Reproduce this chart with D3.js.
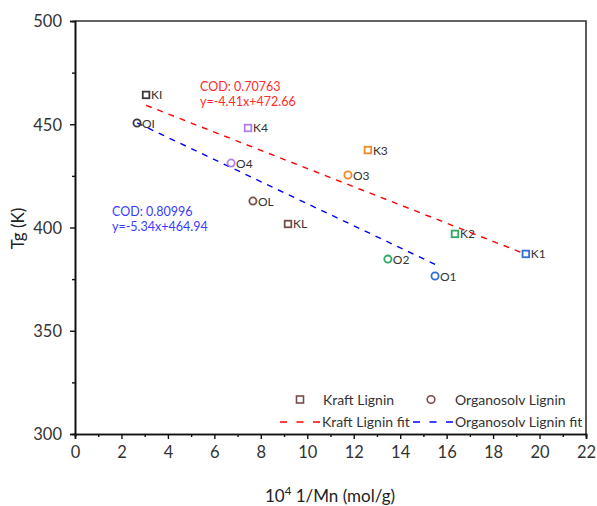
<!DOCTYPE html>
<html>
<head>
<meta charset="utf-8">
<script src="https://cdn.jsdelivr.net/npm/d3@7"></script>
<style>
  html, body { margin: 0; padding: 0; background: #ffffff; }
  svg { display: block; font-family: Lato, "Open Sans", sans-serif; }
</style>
</head>
<body>
<svg id="chart" width="597" height="506"></svg>
<script>
// Samples: label, 10^4/Mn, Tg (K), colour
const kraftNames = ["KI", "K4", "KL", "K3", "K2", "K1"];
const kraftX     = [3.06, 7.45, 9.17, 12.61, 16.36, 19.41];
const kraftTg    = [464.2, 448.2, 401.7, 437.5, 396.9, 387.2];
const kraftColor = ["#3a3a3a", "#b57ee0", "#7a4d4d", "#f08a2c", "#2fa866", "#2f6fdc"];

const orgNames = ["OI", "O4", "OL", "O3", "O2", "O1"];
const orgX     = [2.67, 6.72, 7.66, 11.75, 13.47, 15.50];
const orgTg    = [450.6, 431.2, 412.8, 425.4, 384.7, 376.5];
const orgColor = ["#3a3a3a", "#b57ee0", "#7a4d4d", "#f08a2c", "#2fa866", "#2f6fdc"];

// Linear fits (slope, intercept) and their reported COD
const kraftFit = { slope: -4.41, intercept: 472.66, cod: "0.70763" };
const orgFit   = { slope: -5.34, intercept: 464.94, cod: "0.80996" };

const xTicks = [0, 2, 4, 6, 8, 10, 12, 14, 16, 18, 20, 22];
const yTicks = [300, 350, 400, 450, 500];

const svg = d3.select("#chart");
const m = { left: 75, top: 21, right: 586, bottom: 434 };

const x = d3.scaleLinear().domain([0, 22]).range([m.left, m.right]);
const y = d3.scaleLinear().domain([300, 500]).range([m.bottom, m.top]);

// Frame (top and right edges)
svg.append("path")
  .attr("d", `M${m.left},${m.top}H${m.right}V${m.bottom}`)
  .attr("fill", "none").attr("stroke", "#333").attr("stroke-width", 1.6);

// Axes with major and minor ticks
const xAxis = svg.append("g").attr("transform", `translate(0,${m.bottom})`)
  .call(d3.axisBottom(x).tickValues(xTicks).tickSize(5).tickPadding(6).tickFormat(d3.format("d")));
const xMinor = svg.append("g").attr("transform", `translate(0,${m.bottom})`)
  .call(d3.axisBottom(x).tickValues(d3.range(1, 22, 2)).tickSize(3).tickFormat(""));
const yAxis = svg.append("g").attr("transform", `translate(${m.left},0)`)
  .call(d3.axisLeft(y).tickValues(yTicks).tickSize(5).tickPadding(8).tickFormat(d3.format("d")));
const yMinor = svg.append("g").attr("transform", `translate(${m.left},0)`)
  .call(d3.axisLeft(y).tickValues([325, 375, 425, 475]).tickSize(3).tickFormat(""));

[xAxis, xMinor, yAxis, yMinor].forEach(g => {
  g.select(".domain").attr("stroke", "#111").attr("stroke-width", 1.6);
  g.selectAll(".tick line").attr("stroke", "#111").attr("stroke-width", 1.4);
  g.selectAll(".tick text").attr("fill", "#333").style("font-size", "16.5px")
    .style("font-family", "Lato, 'Open Sans', sans-serif");
});
xAxis.selectAll(".tick text").attr("dy", "0.8em");
yAxis.selectAll(".tick text").attr("dy", "0.36em");

// Axis titles
svg.append("text")
  .attr("transform", `translate(24,${(m.top + m.bottom) / 2 + 1}) rotate(-90)`)
  .attr("text-anchor", "middle").attr("fill", "#222").style("font-size", "17px")
  .text("Tg (K)");

const xt = svg.append("text")
  .attr("x", 330).attr("y", 502).attr("text-anchor", "middle")
  .attr("fill", "#222").style("font-size", "17px");
xt.append("tspan").text("10");
xt.append("tspan").attr("dy", -7).style("font-size", "11.5px").text("4");
xt.append("tspan").attr("dy", 7).text(" 1/Mn (mol/g)");

// Fit lines over each group's x range
function fitLine(fit, xs, color) {
  const xr = d3.extent(xs);
  svg.append("line")
    .attr("x1", x(xr[0])).attr("y1", y(fit.slope * xr[0] + fit.intercept))
    .attr("x2", x(xr[1])).attr("y2", y(fit.slope * xr[1] + fit.intercept))
    .attr("stroke", color).attr("stroke-width", 1.4).attr("stroke-dasharray", "6,6");
}
fitLine(kraftFit, kraftX, "#ff0000");
fitLine(orgFit, orgX, "#0000ff");

// Markers with labels
const kraft = kraftNames.map((n, i) => ({ n, x: kraftX[i], y: kraftTg[i], c: kraftColor[i] }));
const org   = orgNames.map((n, i) => ({ n, x: orgX[i], y: orgTg[i], c: orgColor[i] }));

svg.selectAll(".ksq").data(kraft).enter().append("rect")
  .attr("x", d => x(d.x) - 3.3).attr("y", d => y(d.y) - 3.3)
  .attr("width", 6.6).attr("height", 6.6)
  .attr("fill", "none").attr("stroke", d => d.c).attr("stroke-width", 1.8);

svg.selectAll(".oci").data(org).enter().append("circle")
  .attr("cx", d => x(d.x)).attr("cy", d => y(d.y)).attr("r", 3.6)
  .attr("fill", "none").attr("stroke", d => d.c).attr("stroke-width", 1.8);

svg.selectAll(".lbl").data(kraft.concat(org)).enter().append("text")
  .attr("x", d => x(d.x) + 5).attr("y", d => y(d.y) + 4.5)
  .attr("fill", "#333").style("font-size", "12px")
  .text(d => d.n);

// Fit annotations
function annot(fit, px, py, color) {
  svg.append("text").attr("x", px).attr("y", py).attr("fill", color)
    .style("font-size", "12.5px").text(`COD: ${fit.cod}`);
  svg.append("text").attr("x", px).attr("y", py + 14.5).attr("fill", color)
    .style("font-size", "12.5px")
    .text(`y=${fit.slope.toFixed(2)}x+${fit.intercept.toFixed(2)}`);
}
annot(kraftFit, 200, 91, "#ff2a2a");
annot(orgFit, 112, 216, "#3a3aff");

// Legend
const lg = svg.append("g").style("font-size", "14px").attr("fill", "#333");
lg.append("rect").attr("x", 296.5).attr("y", 396).attr("width", 7).attr("height", 7)
  .attr("fill", "none").attr("stroke", "#7a4d4d").attr("stroke-width", 1.6);
lg.append("text").attr("x", 323).attr("y", 405).text("Kraft Lignin");
lg.append("circle").attr("cx", 431).attr("cy", 399.5).attr("r", 3.8)
  .attr("fill", "none").attr("stroke", "#7a4d4d").attr("stroke-width", 1.6);
lg.append("text").attr("x", 455).attr("y", 405).text("Organosolv Lignin");
lg.append("line").attr("x1", 280).attr("x2", 320).attr("y1", 422).attr("y2", 422)
  .attr("stroke", "#ff0000").attr("stroke-width", 1.4).attr("stroke-dasharray", "7,9.5");
lg.append("text").attr("x", 322).attr("y", 426.5).text("Kraft Lignin fit");
lg.append("line").attr("x1", 413).attr("x2", 453).attr("y1", 422).attr("y2", 422)
  .attr("stroke", "#0000ff").attr("stroke-width", 1.4).attr("stroke-dasharray", "7,9.5");
lg.append("text").attr("x", 455).attr("y", 426.5).text("Organosolv Lignin fit");
</script>
</body>
</html>
